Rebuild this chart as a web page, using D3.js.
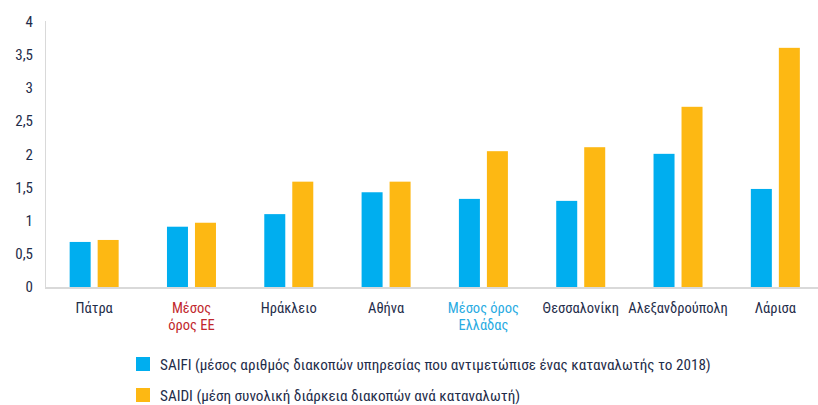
<!DOCTYPE html>
<html>
<head>
<meta charset="utf-8">
<script src="https://cdn.jsdelivr.net/npm/d3@7"></script>
<style>
  body { margin: 0; background: #fff; }
  svg text { font-family: "Liberation Sans Narrow", "Roboto Condensed", "Arial Narrow", sans-serif; }
</style>
</head>
<body>
<svg id="chart"></svg>
<script>
// Categories and series values
const cities = ["Πάτρα", "Μέσος όρος ΕΕ", "Ηράκλειο", "Αθήνα", "Μέσος όρος Ελλάδας", "Θεσσαλονίκη", "Αλεξανδρούπολη", "Λάρισα"];
const cityLines = [["Πάτρα"], ["Μέσος", "όρος ΕΕ"], ["Ηράκλειο"], ["Αθήνα"], ["Μέσος όρος", "Ελλάδας"], ["Θεσσαλονίκη"], ["Αλεξανδρούπολη"], ["Λάρισα"]];
const saifi = [0.68, 0.91, 1.10, 1.43, 1.33, 1.30, 2.01, 1.48];
const saidi = [0.71, 0.97, 1.59, 1.59, 2.05, 2.11, 2.72, 3.61];
const yTicks = [0, 0.5, 1, 1.5, 2, 2.5, 3, 3.5, 4];
const seriesNames = [
  "SAIFI (μέσος αριθμός διακοπών υπηρεσίας που αντιμετώπισε ένας καταναλωτής το 2018)",
  "SAIDI (μέση συνολική διάρκεια διακοπών ανά καταναλωτή)"
];

const C = { saifi: "#00aeef", saidi: "#fdb813", text: "#1f2d4a", eu: "#c1272d", gr: "#29abe2", axis: "#d9d9d9" };
const W = 818, H = 405;

const svg = d3.select("#chart").attr("width", W).attr("height", H);

const x = d3.scaleBand().domain(cities).range([45.5, 824]).paddingInner(0).paddingOuter(0);
const y = d3.scaleLinear().domain([0, 4]).range([287, 22]);
const barW = 21, gap = 7;

// Axes lines
svg.append("line").attr("x1", 45.5).attr("x2", 45.5).attr("y1", 21).attr("y2", 287)
  .attr("stroke", C.axis).attr("stroke-width", 1);
svg.append("line").attr("x1", 45).attr("x2", W).attr("y1", 288).attr("y2", 288)
  .attr("stroke", C.axis).attr("stroke-width", 2);

// Y tick labels
svg.append("g").selectAll("text").data(yTicks).join("text")
  .attr("x", 33).attr("y", d => y(d) + 5)
  .attr("text-anchor", "end")
  .style("font-size", "15px").style("fill", C.text)
  .text(d => String(d).replace(".", ","));

// Bars
const groups = svg.append("g").selectAll("g").data(cities).join("g")
  .attr("transform", d => `translate(${x(d) + x.bandwidth() / 2},0)`);

groups.append("rect")
  .attr("x", -barW - gap / 2).attr("width", barW)
  .attr("y", (d, i) => y(saifi[i])).attr("height", (d, i) => y(0) - y(saifi[i]))
  .attr("fill", C.saifi);

groups.append("rect")
  .attr("x", gap / 2).attr("width", barW)
  .attr("y", (d, i) => y(saidi[i])).attr("height", (d, i) => y(0) - y(saidi[i]))
  .attr("fill", C.saidi);

// Category labels
groups.append("text")
  .attr("text-anchor", "middle")
  .style("font-size", "14.5px")
  .style("fill", (d, i) => i === 1 ? C.eu : i === 4 ? C.gr : C.text)
  .selectAll("tspan").data((d, i) => cityLines[i]).join("tspan")
  .attr("x", 0).attr("y", (d, j) => 313 + j * 17)
  .text(d => d);

// Legend
const legend = svg.append("g").selectAll("g").data(seriesNames).join("g")
  .attr("transform", (d, i) => `translate(136,${357 + i * 31})`);
legend.append("rect").attr("width", 14).attr("height", 14)
  .attr("fill", (d, i) => i === 0 ? C.saifi : C.saidi);
legend.append("text").attr("x", 24).attr("y", 12.5)
  .style("font-size", "15.2px").style("fill", C.text)
  .text(d => d);
</script>
</body>
</html>
